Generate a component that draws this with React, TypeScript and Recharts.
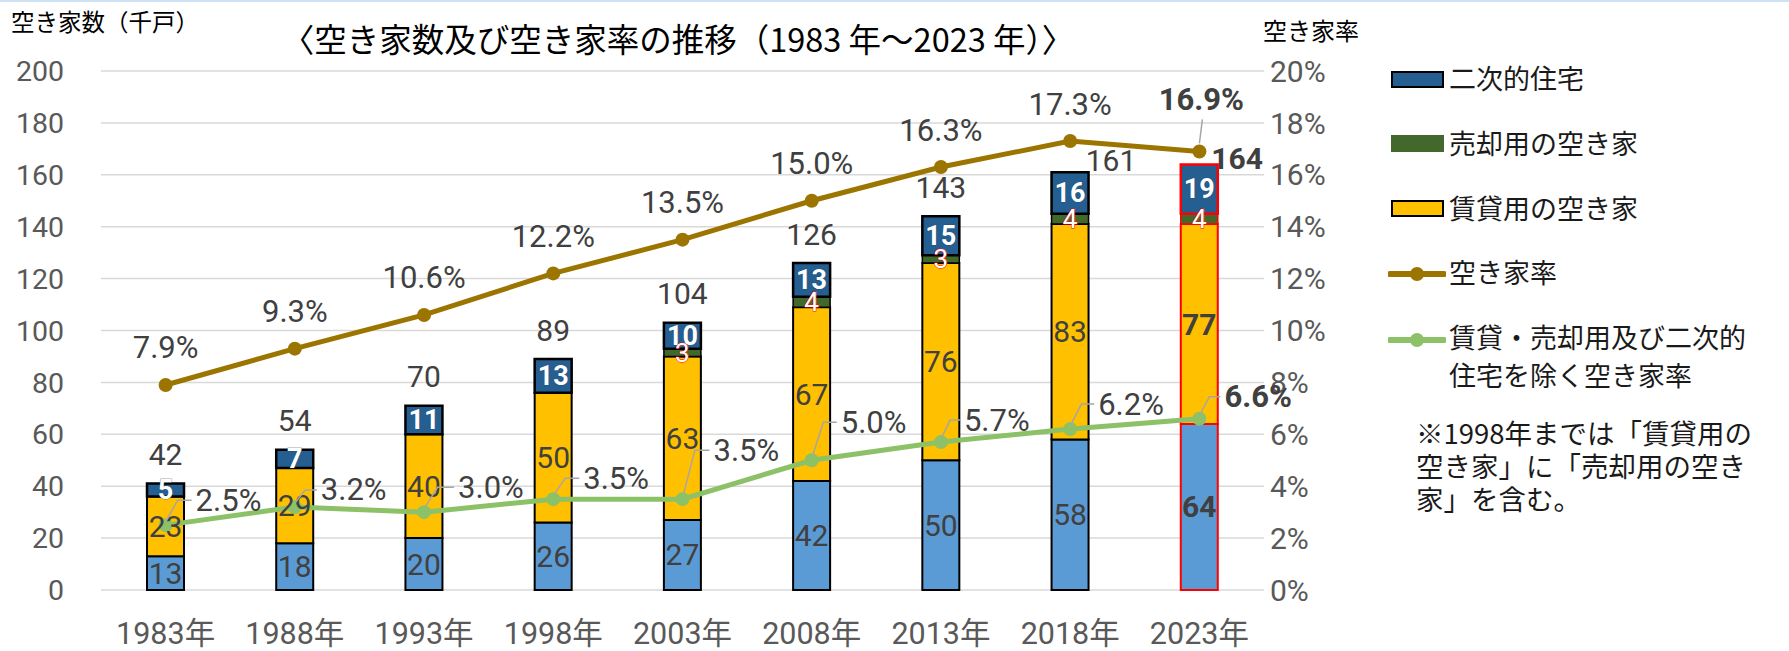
import React from 'react'
import { ComposedChart, Bar, Line, XAxis, YAxis, CartesianGrid, LabelList, Cell } from 'recharts'

const years = ['1983年', '1988年', '1993年', '1998年', '2003年', '2008年', '2013年', '2018年', '2023年']
// 空き家数（千戸）
const otherVacant = [13, 18, 20, 26, 27, 42, 50, 58, 64]
const rentalVacant = [23, 29, 40, 50, 63, 67, 76, 83, 77]
const saleVacant = [0, 0, 0, 0, 3, 4, 3, 4, 4]
const secondHomes = [5, 7, 11, 13, 10, 13, 15, 16, 19]
const totalVacant = [42, 54, 70, 89, 104, 126, 143, 161, 164]
// 空き家率（%）
const vacancyRate = [7.9, 9.3, 10.6, 12.2, 13.5, 15.0, 16.3, 17.3, 16.9]
const otherRate = [2.5, 3.2, 3.0, 3.5, 3.5, 5.0, 5.7, 6.2, 6.6]
const leftTicks = [0, 20, 40, 60, 80, 100, 120, 140, 160, 180, 200]
const rightTicks = [0, 2, 4, 6, 8, 10, 12, 14, 16, 18, 20]

const data = years.map((year, i) => ({
  year,
  other: otherVacant[i],
  rental: rentalVacant[i],
  sale: saleVacant[i],
  second: secondHomes[i],
  total: totalVacant[i],
  rate: vacancyRate[i],
  otherRate: otherRate[i],
}))

const FONT = "Roboto, 'Noto Sans CJK JP', sans-serif"
const JP = "'Noto Sans CJK JP', sans-serif"
const LABEL = '#404040'
const LEADER = '#A6A6A6'
const LAST = years.length - 1

const C = {
  other: '#5B9BD5',
  rental: '#FFC000',
  sale: '#43682B',
  second: '#255E91',
  rate: '#9C7500',
  otherRate: '#8CC168',
}

// label nudges for the green line (dx to text start, dy to text centre)
const greenNudge = [[30, -25], [26, -17], [34, -25], [30, -21], [31, -49], [29, -38], [23, -22], [28, -25], [25, -22]]

function box(p: any) {
  const vb = p.viewBox || {}
  return {
    x: p.x ?? vb.x,
    y: p.y ?? vb.y,
    w: p.width ?? vb.width ?? 0,
    h: p.height ?? vb.height ?? 0,
  }
}

function segLabel(fill: string, size: number, weight: number, extra: any = {}) {
  return (p: any) => {
    if (!p.value) return null
    const { x, y, w, h } = box(p)
    const bold = p.index === LAST && fill === LABEL
    return (
      <text x={x + w / 2} y={y + h / 2} textAnchor="middle" dominantBaseline="central"
        fontFamily={FONT} fontSize={size} fontWeight={bold ? 700 : weight} fill={fill} {...extra}>
        {p.value}
      </text>
    )
  }
}

function totalLabel(p: any) {
  const { x, y, w } = box(p)
  const i = p.index
  const value = totalVacant[i]
  let tx = x + w / 2
  let ty = y - 29
  let anchor = 'middle'
  if (i === 7) { tx = x + w / 2 + 41; ty = y - 12 }
  if (i === LAST) { tx = x + w / 2 + 12; ty = y - 6; anchor = 'start' }
  return (
    <text x={tx} y={ty} textAnchor={anchor} dominantBaseline="central" fontFamily={FONT}
      fontSize={30} fontWeight={i === LAST ? 700 : 400} fill={LABEL}>
      {value}
    </text>
  )
}

function rateLabel(p: any) {
  const { x, y } = box(p)
  if (p.index === LAST) {
    return (
      <g>
        <line x1={x} y1={y - 8} x2={x + 3} y2={y - 32} stroke={LEADER} strokeWidth={1.5} />
        <text x={x + 2} y={y - 52} textAnchor="middle" dominantBaseline="central" fontFamily={FONT}
          fontSize={31} fontWeight={700} fill={LABEL}>{`${p.value.toFixed(1)}%`}</text>
      </g>
    )
  }
  return (
    <text x={x} y={y - 37} textAnchor="middle" dominantBaseline="central" fontFamily={FONT}
      fontSize={31} fill={LABEL}>{`${p.value.toFixed(1)}%`}</text>
  )
}

function otherRateLabel(p: any) {
  const { x, y } = box(p)
  const [dx, dy] = greenNudge[p.index]
  const ly = y + dy
  return (
    <g>
      <polyline points={`${x + 1},${y - 5} ${x + dx * 0.4},${ly} ${x + dx - 4},${ly}`}
        fill="none" stroke={LEADER} strokeWidth={1.5} />
      <text x={x + dx} y={ly} dominantBaseline="central" fontFamily={FONT} fontSize={31}
        fontWeight={p.index === LAST ? 700 : 400} fill={LABEL}>{`${p.value.toFixed(1)}%`}</text>
    </g>
  )
}

const cells = () => data.map((_, i) => (
  <Cell key={i} stroke={i === LAST ? '#FF0000' : '#000000'} />
))

function LegendBox({ top, color, border }: { top: number; color: string; border: boolean }) {
  return (
    <div style={{
      position: 'absolute', left: 1391, top: top - 9, width: 53, height: 17, background: color,
      border: border ? '2px solid #000' : 'none', boxSizing: 'border-box',
    }} />
  )
}

function LegendLine({ top, color }: { top: number; color: string }) {
  return (
    <svg style={{ position: 'absolute', left: 1388, top: top - 10 }} width={58} height={20}>
      <line x1={2} y1={10} x2={56} y2={10} stroke={color} strokeWidth={6} strokeLinecap="round" />
      <circle cx={29} cy={10} r={7} fill={color} />
    </svg>
  )
}

function LegendText({ top, children }: { top: number; children: React.ReactNode }) {
  return (
    <div style={{
      position: 'absolute', left: 1449, top: top - 18, height: 36, lineHeight: '36px',
      fontFamily: JP, fontSize: 27, color: '#1A1A1A', whiteSpace: 'nowrap',
    }}>{children}</div>
  )
}

export default function App() {
  return (
    <div style={{ position: 'absolute', left: 0, top: 0, width: 1789, height: 651, background: '#fff', overflow: 'hidden' }}>
      <div style={{ position: 'absolute', left: 0, top: 0, width: 1789, height: 2, background: '#CFE2F3' }} />
      <div style={{ position: 'absolute', left: 11, top: 6, fontFamily: JP, fontSize: 23.5, lineHeight: '30px', color: '#000' }}>
        空き家数（千戸）
      </div>
      <div style={{ position: 'absolute', left: 0, width: 1356, top: 18, textAlign: 'center', fontFamily: JP, fontSize: 32.5, lineHeight: '40px', color: '#000', whiteSpace: 'nowrap' }}>
        〈空き家数及び空き家率の推移（1983 年～2023 年）〉
      </div>
      <div style={{ position: 'absolute', left: 1263, top: 15, fontFamily: JP, fontSize: 24, lineHeight: '30px', color: '#000' }}>
        空き家率
      </div>

      <ComposedChart width={1789} height={651} data={data} margin={{ top: 71, right: 445, bottom: 0, left: 0 }}>
        <CartesianGrid yAxisId="left" vertical={false} stroke="#D9D9D9" strokeWidth={1.5} />
        <XAxis dataKey="year" height={61} axisLine={false} tickLine={false} tickMargin={26}
          tick={{ fontSize: 30.5, fill: '#595959', fontFamily: FONT }} />
        <YAxis yAxisId="left" width={101} domain={[0, 200]} ticks={leftTicks} axisLine={false} tickLine={false}
          tickMargin={31} interval={0} tick={{ fontSize: 28.5, fill: '#595959', fontFamily: FONT }} />
        <YAxis yAxisId="right" orientation="right" width={80} domain={[0, 20]} ticks={rightTicks} axisLine={false}
          tickLine={false} tickMargin={0} interval={0} tickFormatter={(v) => `${v}%`}
          tick={{ fontSize: 30, fill: '#595959', fontFamily: FONT, textAnchor: 'start' }} />

        <Bar yAxisId="left" dataKey="other" stackId="a" fill={C.other} stroke="#000" strokeWidth={2} barSize={37} isAnimationActive={false}>
          {cells()}
          <LabelList dataKey="other" content={segLabel(LABEL, 30, 400)} />
        </Bar>
        <Bar yAxisId="left" dataKey="rental" stackId="a" fill={C.rental} stroke="#000" strokeWidth={2} barSize={37} isAnimationActive={false}>
          {cells()}
          <LabelList dataKey="rental" content={segLabel(LABEL, 30, 400)} />
        </Bar>
        <Bar yAxisId="left" dataKey="sale" stackId="a" fill={C.sale} stroke="#000" strokeWidth={1.5} barSize={37} isAnimationActive={false}>
          {cells()}
          <LabelList dataKey="sale" content={segLabel('#FFFFFF', 26, 400, { stroke: '#FF0000', strokeWidth: 1, paintOrder: 'stroke' })} />
        </Bar>
        <Bar yAxisId="left" dataKey="second" stackId="a" fill={C.second} stroke="#000" strokeWidth={2.5} barSize={37} isAnimationActive={false}>
          {cells()}
          <LabelList dataKey="second" content={segLabel('#FFFFFF', 27, 700, { stroke: '#1F3F5F', strokeWidth: 0.6, paintOrder: 'stroke' })} />
          <LabelList dataKey="total" content={totalLabel} />
        </Bar>

        <Line yAxisId="right" dataKey="rate" stroke={C.rate} strokeWidth={5}
          dot={{ r: 7, fill: C.rate, stroke: C.rate, strokeWidth: 0 }} isAnimationActive={false}>
          <LabelList dataKey="rate" content={rateLabel} />
        </Line>
        <Line yAxisId="right" dataKey="otherRate" stroke={C.otherRate} strokeWidth={5}
          dot={{ r: 7, fill: C.otherRate, stroke: C.otherRate, strokeWidth: 0 }} isAnimationActive={false}>
          <LabelList dataKey="otherRate" content={otherRateLabel} />
        </Line>
      </ComposedChart>

      <LegendBox top={80} color={C.second} border />
      <LegendText top={78}>二次的住宅</LegendText>
      <LegendBox top={144} color={C.sale} border={false} />
      <LegendText top={143}>売却用の空き家</LegendText>
      <LegendBox top={209} color={C.rental} border />
      <LegendText top={208}>賃貸用の空き家</LegendText>
      <LegendLine top={274} color={C.rate} />
      <LegendText top={272}>空き家率</LegendText>
      <LegendLine top={340} color={C.otherRate} />
      <LegendText top={337}>賃貸・売却用及び二次的</LegendText>
      <LegendText top={375}>住宅を除く空き家率</LegendText>

      <div style={{ position: 'absolute', left: 1416, top: 416, fontFamily: JP, fontSize: 27.5, lineHeight: '33px', color: '#1A1A1A', whiteSpace: 'nowrap' }}>
        ※1998年までは「賃貸用の<br />空き家」に「売却用の空き<br />家」を含む。
      </div>
    </div>
  )
}
